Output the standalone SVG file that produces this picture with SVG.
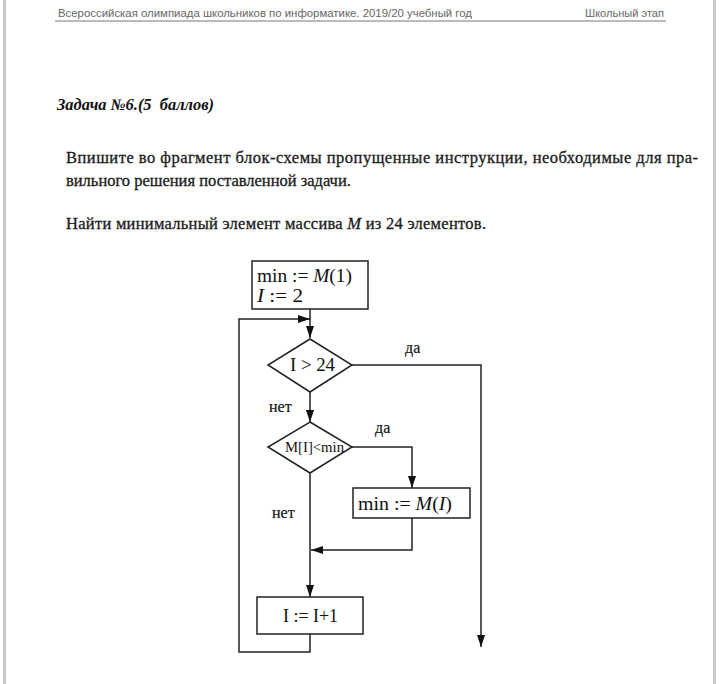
<svg xmlns="http://www.w3.org/2000/svg" width="720" height="684" viewBox="0 0 720 684">
<style>
.hdr{font-family:"Liberation Sans",Arial,sans-serif;font-size:11px;fill:#666}
.ttl{font-family:"Liberation Serif","Times New Roman",serif;font-size:16px;font-weight:bold;font-style:italic;fill:#111}
.par{font-family:"Liberation Serif","Times New Roman",serif;font-size:16.5px;fill:#1a1a1a;stroke:#1a1a1a;stroke-width:0.3}
.fc{font-family:"Liberation Serif","Times New Roman",serif;font-size:19px;fill:#111}
.lbl{font-family:"Liberation Serif","Times New Roman",serif;font-size:16px;fill:#111;stroke:#111;stroke-width:0.2}
.it{font-style:italic}
.shape{fill:#fff;stroke:#222;stroke-width:1.5}
.ln{fill:none;stroke:#222;stroke-width:1.5}
</style>
<defs>
<marker id="arr" viewBox="0 0 12 8" refX="12" refY="4" markerWidth="12" markerHeight="8" markerUnits="userSpaceOnUse" orient="auto">
<path d="M0,0 L12,4 L0,8 Z" fill="#111"/>
</marker>
</defs>
<rect x="0" y="0" width="720" height="684" fill="#fff"/>
<rect x="3" y="0" width="3" height="684" fill="#c8c8c8"/>
<rect x="713" y="0" width="3" height="684" fill="#c8c8c8"/>
<g id="header">
<text class="hdr" x="58" y="17" textLength="414" lengthAdjust="spacingAndGlyphs">Всероссийская олимпиада школьников по информатике. 2019/20 учебный год</text>
<text class="hdr" x="585" y="17" textLength="79" lengthAdjust="spacingAndGlyphs">Школьный этап</text>
<line x1="55" y1="21" x2="666" y2="21" stroke="#777" stroke-width="1"/>
</g>
<g id="task">
<text class="ttl" x="57" y="110" textLength="157" lengthAdjust="spacingAndGlyphs" xml:space="preserve">Задача №6.(5  баллов)</text>
<text class="par" x="66" y="163" textLength="632" lengthAdjust="spacing">Впишите во фрагмент блок-схемы пропущенные инструкции, необходимые для пра-</text>
<text class="par" x="66" y="186">вильного решения поставленной задачи.</text>
<text class="par" x="66" y="229" textLength="420" lengthAdjust="spacing">Найти минимальный элемент массива <tspan class="it">M</tspan> из 24 элементов.</text>
</g>
<g id="connectors">
<path class="ln" d="M310,309 L310,338" marker-end="url(#arr)"/>
<path class="ln" d="M310,634 L310,652 L239,652 L239,319 L310,319" marker-end="url(#arr)"/>
<path class="ln" d="M352,365 L481,365 L481,647" marker-end="url(#arr)"/>
<path class="ln" d="M310,392 L310,422" marker-end="url(#arr)"/>
<path class="ln" d="M352,447 L412,447 L412,488" marker-end="url(#arr)"/>
<path class="ln" d="M412,518 L412,550 L311,550" marker-end="url(#arr)"/>
<path class="ln" d="M310,473 L310,597" marker-end="url(#arr)"/>
<text class="lbl" x="405" y="353">да</text>
<text class="lbl" x="269" y="412">нет</text>
<text class="lbl" x="375" y="433">да</text>
<text class="lbl" x="272" y="518">нет</text>
</g>
<g id="init">
<rect class="shape" x="252" y="261" width="116" height="48"/>
<text class="fc" x="257" y="282" textLength="95" lengthAdjust="spacingAndGlyphs">min := <tspan class="it">M</tspan>(1)</text>
<text class="fc" x="257" y="302" textLength="46" lengthAdjust="spacingAndGlyphs"><tspan class="it">I</tspan> := 2</text>
</g>
<g id="cond1">
<polygon class="shape" points="310,339 352,365 310,392 268,365"/>
<text class="fc" x="290" y="371" textLength="45" lengthAdjust="spacingAndGlyphs">I &gt; 24</text>
</g>
<g id="cond2">
<polygon class="shape" points="310,422 352,447 310,473 268,447"/>
<text class="fc" x="285" y="452" style="font-size:15px" textLength="59" lengthAdjust="spacingAndGlyphs">M[I]&lt;min</text>
</g>
<g id="assign">
<rect class="shape" x="353" y="488" width="117" height="30"/>
<text class="fc" x="358" y="510" textLength="94" lengthAdjust="spacingAndGlyphs">min := <tspan class="it">M</tspan>(<tspan class="it">I</tspan>)</text>
</g>
<g id="incr">
<rect class="shape" x="257" y="597" width="106" height="37"/>
<text class="fc" x="283" y="622" textLength="55" lengthAdjust="spacingAndGlyphs">I := I+1</text>
</g>
</svg>
